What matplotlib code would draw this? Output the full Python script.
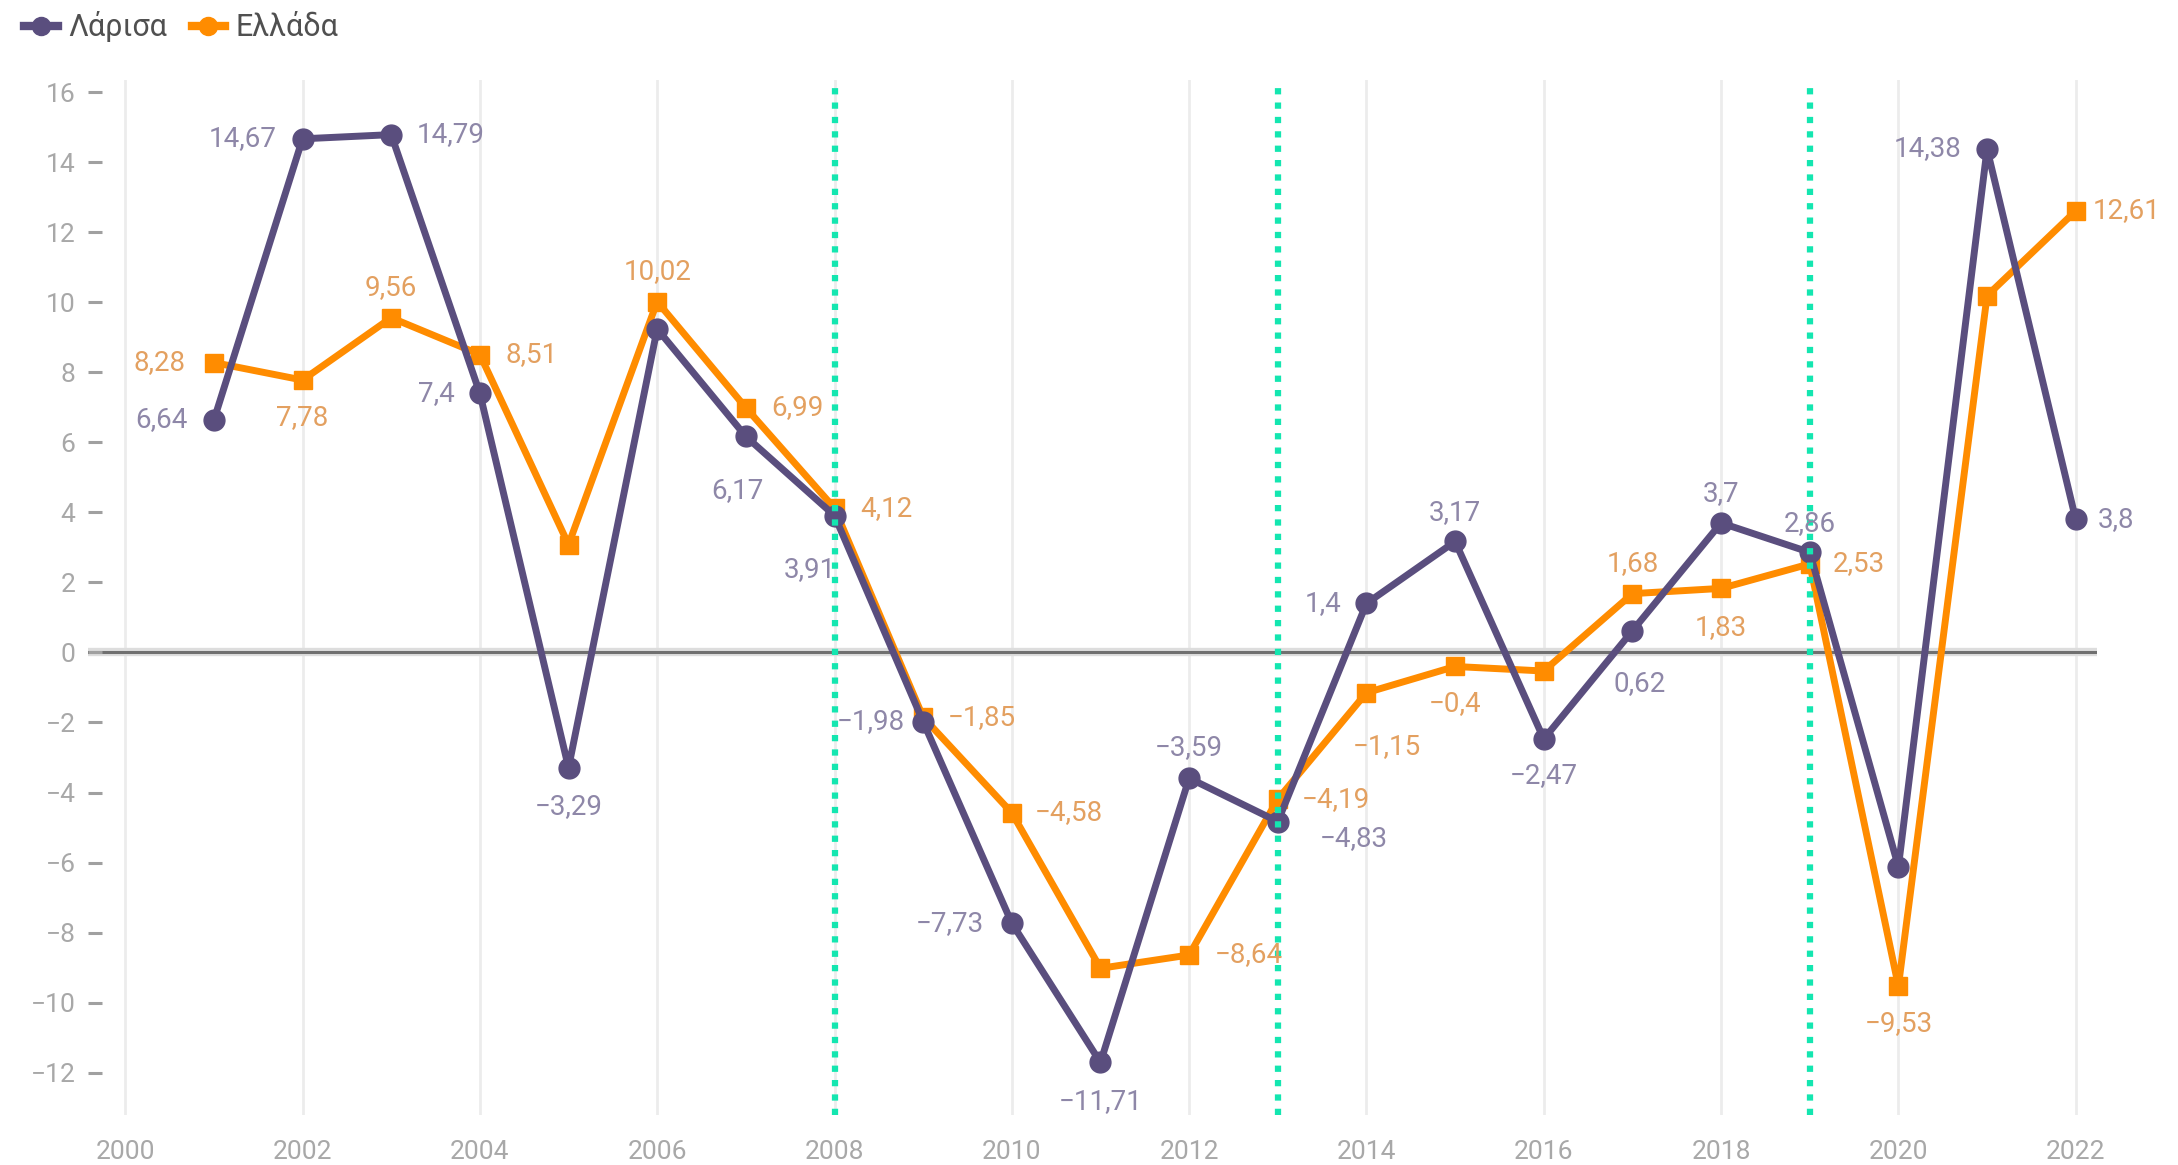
import matplotlib
matplotlib.use("Agg")
import matplotlib.pyplot as plt
from matplotlib.lines import Line2D

plt.rcParams['font.family'] = ['Roboto', 'DejaVu Sans']

years = list(range(2001, 2023))
larisa = [6.64, 14.67, 14.79, 7.4, -3.29, 9.24, 6.17, 3.91, -1.98, -7.73, -11.71,
          -3.59, -4.83, 1.4, 3.17, -2.47, 0.62, 3.7, 2.86, -6.12, 14.38, 3.8]
greece = [8.28, 7.78, 9.56, 8.51, 3.08, 10.02, 6.99, 4.12, -1.85, -4.58, -9.02,
          -8.64, -4.19, -1.15, -0.4, -0.53, 1.68, 1.83, 2.53, -9.53, 10.19, 12.61]
series_names = ["Λάρισα", "Ελλάδα"]
event_years = [2008, 2013, 2019]
x_ticks = list(range(2000, 2023, 2))
y_ticks = list(range(-12, 17, 2))

# label offsets (points) of text centre from the marker; None = no label
larisa_lbl = [(-38, 0), (-43, 0), (43, 0), (-31, 0), (0, -28), None, (-6, -39),
              (-18, -39), (-38, 0), (-45, 0), (0, -28), (0, 22), (55, -12),
              (-31, 0), (0, 21), (0, -26), (5, -38), (0, 21), (0, 21), None,
              (-43, 0), (29, 0)]
greece_lbl = [(-39, 0), (0, -27), (0, 22), (37, 0), None, (0, 22), (37, 0),
              (37, 0), (42, 0), (41, 0), None, (43, 0), (42, 0), (15, -39),
              (0, -27), None, (0, 22), (0, -28), (35, 0), (0, -27), None, (37, 0)]

c_lar = '#5a4e7e'
c_gr = '#ff8c00'
c_lar_t = '#8e87a8'
c_gr_t = '#e3a060'
c_event = '#14e6b0'

fig = plt.figure(figsize=(21.78, 11.65), dpi=100)
ax = fig.add_axes([88/2178, 50/1165, (2097-88)/2178, (1115-80)/1165])
ax.set_xlim(1999.58, 2022.24)
ax.set_ylim(-13.21, 16.35)

for s in ax.spines.values():
    s.set_visible(False)

for xt in x_ticks:
    ax.axvline(xt, color='#ececec', lw=2, zorder=0)

ax.axhline(0, color='#dddddd', lw=6, zorder=1)
ax.axhline(0, color='#707070', lw=2.2, zorder=1.1)

ax.plot(years, greece, color=c_gr, lw=5, marker='s', ms=13, zorder=3,
        solid_joinstyle='round')
ax.plot(years, larisa, color=c_lar, lw=5, marker='o', ms=15, zorder=4,
        solid_joinstyle='round')

for ey in event_years:
    ax.axvline(ey, color=c_event, lw=4.5, ls=(0, (1, 1.3)), zorder=5)

def fmt(v):
    s = f"{v:g}".replace('.', ',')
    return s.replace('-', '\u2212')

for vals, lbls, col in ((larisa, larisa_lbl, c_lar_t), (greece, greece_lbl, c_gr_t)):
    for yr, v, off in zip(years, vals, lbls):
        if off is None:
            continue
        ax.annotate(fmt(v), (yr, v), xytext=off, textcoords='offset points',
                    ha='center', va='center', fontsize=20, color=col, zorder=6)

ax.set_xticks(x_ticks)
ax.set_xticklabels([str(x) for x in x_ticks])
ax.set_yticks(y_ticks)
ax.set_yticklabels([str(y).replace('-', '\u2212') for y in y_ticks])
ax.tick_params(axis='x', length=0, pad=18, labelsize=19, labelcolor='#a8a8a8')
ax.tick_params(axis='y', direction='in', length=10, width=2.2, color='#a0a0a0',
               pad=9, labelsize=19, labelcolor='#a8a8a8')

handles = [Line2D([], [], color=c_lar, lw=6, marker='o', ms=13),
           Line2D([], [], color=c_gr, lw=6, marker='o', ms=13)]
fig.legend(handles, series_names, loc='center left', bbox_to_anchor=(24/2178, 1 - 27/1165),
           ncol=2, frameon=False, fontsize=22, handlelength=1.1, handletextpad=0.35,
           columnspacing=0.8, labelcolor='#505050', borderaxespad=0, borderpad=0)

fig.savefig('out.png', dpi=100)
